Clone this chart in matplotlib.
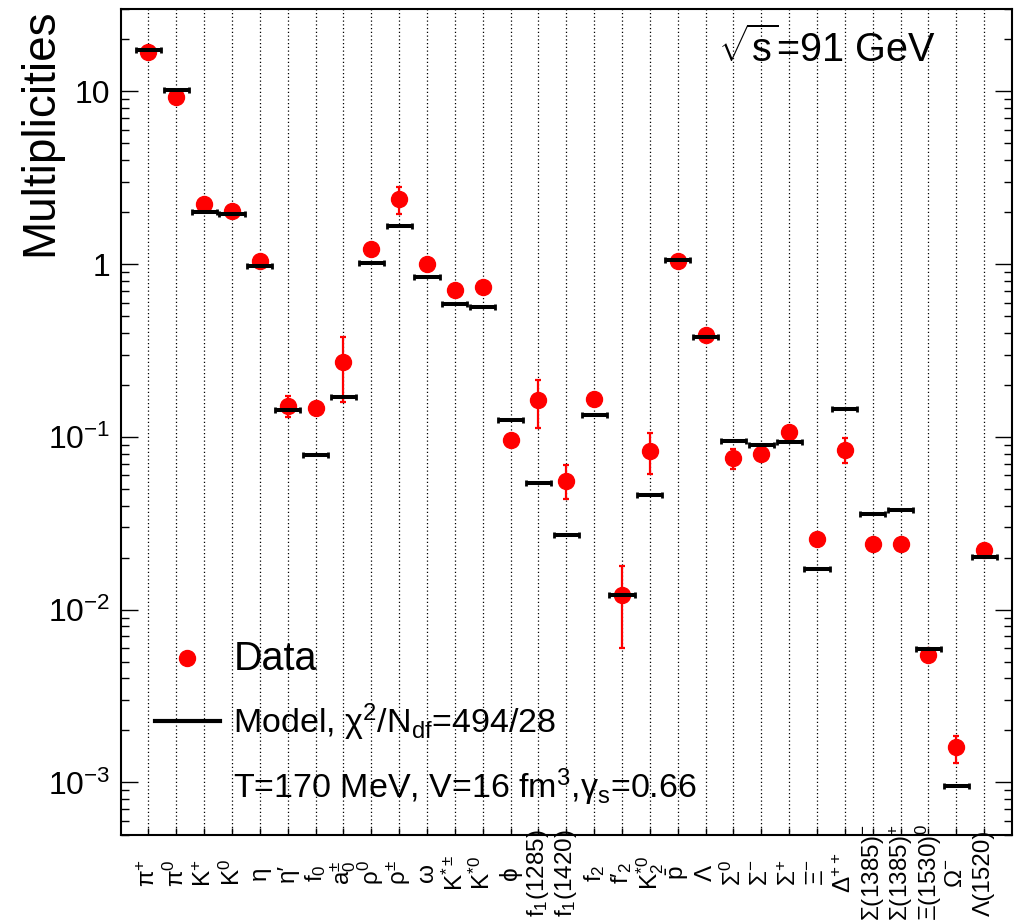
# Multiplicities of hadrons at sqrt(s)=91 GeV: data vs thermal model fit

import matplotlib
matplotlib.use("Agg")
import matplotlib.pyplot as plt
from matplotlib.lines import Line2D
from matplotlib.ticker import LogLocator, FixedLocator, FixedFormatter, NullFormatter
import matplotlib.transforms as mtransforms
import numpy as np

plt.rcParams['font.family'] = ['Liberation Sans', 'DejaVu Sans']
plt.rcParams['mathtext.fontset'] = 'custom'
plt.rcParams['mathtext.rm'] = 'Liberation Sans'
plt.rcParams['mathtext.it'] = 'Liberation Sans:italic'
plt.rcParams['mathtext.bf'] = 'Liberation Sans:bold'

# частицы (подписи по оси x)
particles = [
    "π$^{+}$", "π$^{0}$", "K$^{+}$", "K$^{0}$", "η", "η′", "f$_{0}$",
    "a$_{0}^{\\pm}$", "ρ$^{0}$", "ρ$^{\\pm}$", "ω", "K$^{*\\pm}$", "K$^{*0}$",
    "ϕ", "f$_{1}$(1285)", "f$_{1}$(1420)", "f$_{2}$", "f′$_{2}$",
    "K$_{2}^{*0}$", "$\\bar{\\mathrm{p}}$", "Λ", "Σ$^{0}$", "Σ$^{-}$", "Σ$^{+}$",
    "Ξ$^{-}$", "Δ$^{++}$", "Σ(1385)$^{-}$", "Σ(1385)$^{+}$", "Ξ(1530)$^{0}$",
    "Ω$^{-}$", "Λ(1520)",
]

# измеренные значения
data_val = [17.0, 9.35, 2.22, 2.03, 1.04, 0.152, 0.147, 0.27, 1.22, 2.37,
            1.0, 0.71, 0.735, 0.0957, 0.164, 0.0555, 0.166, 0.0122, 0.083,
            1.05, 0.39, 0.0754, 0.080, 0.107, 0.0257, 0.0845, 0.0239, 0.0239,
            0.0055, 0.0016, 0.0222]
data_err_lo = [0.5, 0.3, 0.05, 0.04, 0.05, 0.021, 0.01, 0.11, 0.08, 0.41,
               0.05, 0.03, 0.03, 0.005, 0.051, 0.012, 0.012, 0.0062, 0.022,
               0.05, 0.015, 0.010, 0.004, 0.006, 0.0015, 0.014, 0.0015, 0.0015,
               0.0003, 0.0003, 0.0015]
data_err_hi = [0.5, 0.3, 0.05, 0.04, 0.05, 0.021, 0.01, 0.11, 0.08, 0.43,
               0.05, 0.03, 0.03, 0.005, 0.049, 0.013, 0.012, 0.0057, 0.022,
               0.05, 0.015, 0.010, 0.004, 0.006, 0.0015, 0.0145, 0.0015, 0.0015,
               0.0003, 0.00027, 0.0015]

# модель
model_val = [17.4, 10.2, 2.0, 1.95, 0.98, 0.143, 0.0789, 0.171, 1.02, 1.66,
             0.838, 0.587, 0.564, 0.125, 0.054, 0.0269, 0.134, 0.0122, 0.046,
             1.06, 0.377, 0.0953, 0.0902, 0.0932, 0.0172, 0.146, 0.0356, 0.0377,
             0.00589, 0.000952, 0.0203]

x = np.arange(1, len(particles) + 1)

fig = plt.figure(figsize=(10.18, 9.22), dpi=100)
ax = fig.add_axes([0.1184, 0.0949, 0.9941 - 0.1184, 0.9902 - 0.0949])

ax.set_yscale('log')
ax.set_xlim(0, 32)
ax.set_ylim(5e-4, 30)

# данные
ax.errorbar(x, data_val, yerr=[data_err_lo, data_err_hi], fmt='o', color='red',
            ms=11.5, elinewidth=1.6, capsize=2.2, capthick=1.6, zorder=3)
# модель
ax.errorbar(x, model_val, xerr=0.45, fmt='none', ecolor='black',
            elinewidth=2.9, capsize=2.5, capthick=2.0, zorder=4)

# оси
ax.set_xticks(x)
ax.set_xticklabels([])
ax.grid(axis='x', color='black', linestyle=(0, (1, 2)), linewidth=0.9)
ax.tick_params(axis='x', direction='in', length=5, width=1)

major = [1e-3, 1e-2, 1e-1, 1, 10]
major_lbl = ["10$^{-3}$", "10$^{-2}$", "10$^{-1}$", "1", "10"]
ax.yaxis.set_major_locator(FixedLocator(major))
ax.yaxis.set_major_formatter(FixedFormatter(major_lbl))
ax.yaxis.set_minor_locator(LogLocator(base=10, subs=np.arange(2, 10), numticks=20))
ax.yaxis.set_minor_formatter(NullFormatter())
ax.tick_params(axis='y', which='major', direction='in', length=12, width=1,
               labelsize=23, pad=7.5, right=True)
ax.tick_params(axis='y', which='minor', direction='in', length=6, width=1,
               right=True)
for sp in ax.spines.values():
    sp.set_linewidth(1.5)

# подписи частиц, вертикально, центрированы под осью
trans = mtransforms.blended_transform_factory(ax.transData, ax.transAxes)
for xi, lab in zip(x, particles):
    ax.text(xi, -0.0465, lab, transform=trans, rotation=90, ha='center',
            va='center', fontsize=17.5, clip_on=False)

fig.text(40 / 1018, 1 - 8 / 922, "Multiplicities", rotation=90, ha='center',
         va='top', fontsize=33)
fig.text(718 / 1018, 1 - 62 / 922, "$\\sqrt{\\mathrm{s}}$=91 GeV", ha='left',
         va='baseline', fontsize=28.5)

# легенда
handles = [
    Line2D([], [], marker='o', color='red', ms=11.5, linestyle='none'),
    Line2D([], [], color='black', lw=3),
    Line2D([], [], color='none'),
]
texts = [
    "Data",
    "Model, χ$^{2}$/N$_{\\mathrm{df}}$=494/28",
    "T=170 MeV, V=16 fm$^{3}$,γ$_{\\mathrm{s}}$=0.66",
]
leg = ax.legend(handles, texts, loc='lower left', bbox_to_anchor=(0.0387, 0.032),
                frameon=False, fontsize=24.5, borderpad=0, borderaxespad=0,
                handlelength=1.9, handletextpad=0.40, labelspacing=0.69)
leg.get_texts()[0].set_fontsize(28.5)

fig.savefig("out.png", dpi=100)
